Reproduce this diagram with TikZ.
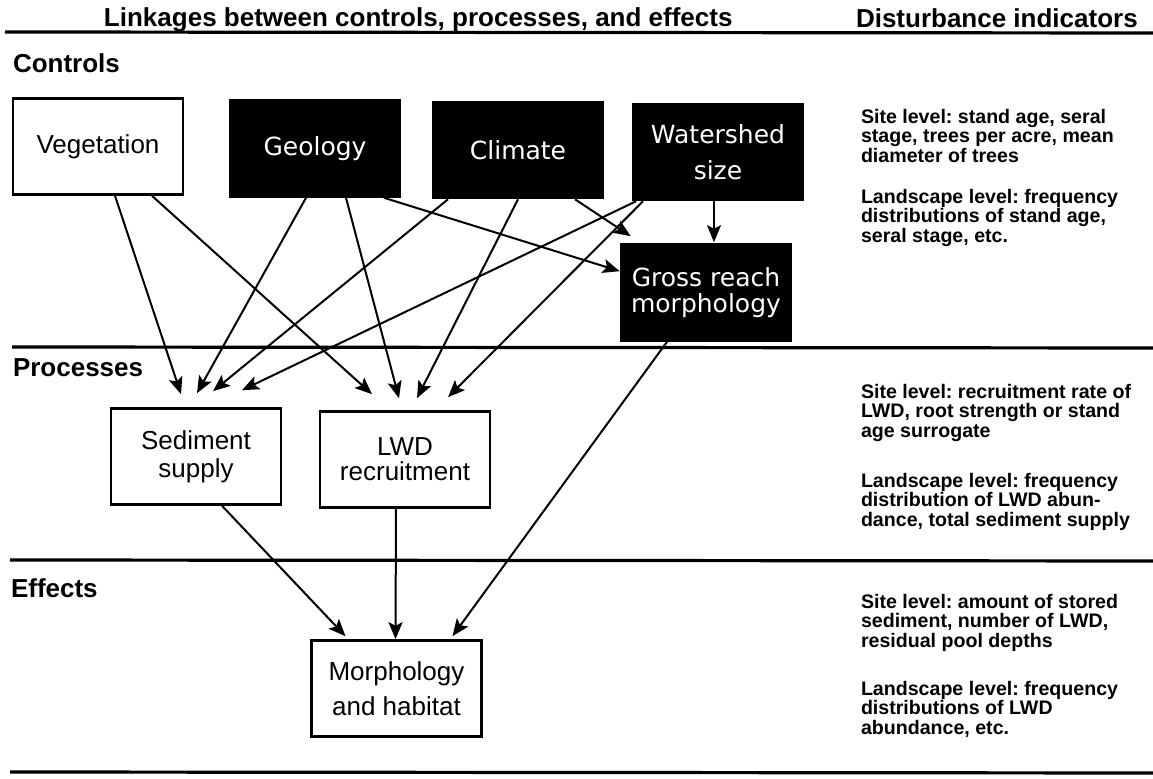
\documentclass[tikz,border=0pt]{standalone}
\usepackage{fontspec}
\setmainfont{Liberation Sans}
\newfontfamily\boxfont{DejaVu Sans}
\usetikzlibrary{arrows.meta,calc}
\frenchspacing

\tikzset{
  every picture/.style={line width=1pt},
  whitebox/.style={draw, line width=1.3pt, minimum width=85pt, minimum height=48pt, inner sep=2pt, align=center, font=\fontsize{13}{14}\selectfont},
  blackbox/.style={draw, fill=black, text=white, line width=1.3pt, minimum width=85pt, minimum height=48pt, inner sep=2pt, align=center, font=\boxfont\fontsize{12.5}{13}\selectfont},
  link/.style={-{Stealth[length=8.5pt,width=7pt,inset=1.8pt]}, line width=1pt},
  rule/.style={line width=1.6pt},
  headtext/.style={anchor=base west, inner sep=0pt, font=\bfseries\fontsize{13}{13}\selectfont},
  indicator/.style={anchor=north west, inner sep=0pt, align=left, font=\bfseries\fontsize{9.8}{9.9}\selectfont}
}

\begin{document}
\begin{tikzpicture}[x=0.5pt,y=0.5pt,yscale=-1,xscale=1]
		\useasboundingbox (0,0) rectangle (1153,779);
		
		%Headings and rules
		\node [headtext] (title) at (103,27) {Linkages between controls, processes, and effects};
		\node [headtext] (distitle) at (855,28) {Disturbance indicators};
		\draw [rule] (5,32) -- (1153,33);
		\draw [rule] (12,347) -- (1153,348);
		\draw [rule] (10,560) -- (1153,561);
		\draw [rule] (10,772) -- (1153,773);
		\node [headtext] (controls) at (12,73) {Controls};
		\node [headtext] (processes) at (12,377) {Processes};
		\node [headtext] (effects) at (10,598) {Effects};
		
		%Shape: Rectangle -- controls
		\node [whitebox] (veg) at (98,146.5) {Vegetation};
		\node [blackbox] (geo) at (315,148.5) {Geology};
		\node [blackbox] (cli) at (518,150) {Climate};
		\node [blackbox] (wat) at (718,152) {Watershed\\[5pt]size};
		\node [blackbox] (gross) at (706,292.5) {Gross reach\\morphology};
		
		%Shape: Rectangle -- processes
		\node [whitebox] (sed) at (196,456.5) {Sediment\\supply};
		\node [whitebox] (lwd) at (405,459.5) {LWD\\[-1.5pt]recruitment};
		
		%Shape: Rectangle -- effects
		\node [whitebox] (morph) at (396.5,688.5) {Morphology\\[3.5pt]and habitat};
		
		%Links
		\draw [link] ($(veg.south)+(17,0)$) -- ($(sed.north)+(-15,-13)$);
		\draw [link] ($(veg.south)+(54,0)$) -- ($(lwd.north)+(-33,-16)$);
		\draw [link] ($(geo.south)+(-9,0)$) -- ($(sed.north)+(1,-14)$);
		\draw [link] ($(geo.south)+(31,0)$) -- ($(lwd.north)+(-6,-12)$);
		\draw [link] ($(geo.south)+(69,0)$) -- ($(gross.north west)+(0,28)$);
		\draw [link] ($(cli.south)+(-70,0)$) -- ($(sed.north)+(17,-16)$);
		\draw [link] (cli.south) -- ($(lwd.north)+(12,-12)$);
		\draw [link] ($(cli.south)+(57,0)$) -- ($(gross.north west)+(11,-7)$);
		\draw [link] ($(wat.south)+(-82,0)$) -- ($(sed.north)+(46,-17)$);
		\draw [link] ($(wat.south)+(-75,0)$) -- ($(lwd.north)+(43,-13)$);
		\draw [link] ($(wat.south)+(-4,0)$) -- ($(gross.north)+(8,-1)$);
		\draw [link] ($(gross.south)+(-39,0)$) -- ($(morph.north)+(56,-3)$);
		\draw [link] ($(sed.south)+(26,0)$) -- ($(morph.north)+(-51,-3)$);
		\draw [link] ($(lwd.south)+(-9,0)$) -- ($(morph.north)+(-1,0)$);
		
		%Disturbance indicators
		\node [indicator] (ctlsite) at (860,108) {Site level: stand age, seral\\stage, trees per acre, mean\\diameter of trees};
		\node [indicator] (ctlland) at (860,188) {Landscape level: frequency\\distributions of stand age,\\seral stage, etc.};
		\node [indicator] (prosite) at (860,383) {Site level: recruitment rate of\\LWD, root strength or stand\\age surrogate};
		\node [indicator] (proland) at (860,472) {Landscape level: frequency\\distribution of LWD abun-\\dance, total sediment supply};
		\node [indicator] (effsite) at (860,593) {Site level: amount of stored\\sediment, number of LWD,\\residual pool depths};
		\node [indicator] (effland) at (860,680) {Landscape level: frequency\\distributions of LWD\\abundance, etc.};
		
\end{tikzpicture}
\end{document}
